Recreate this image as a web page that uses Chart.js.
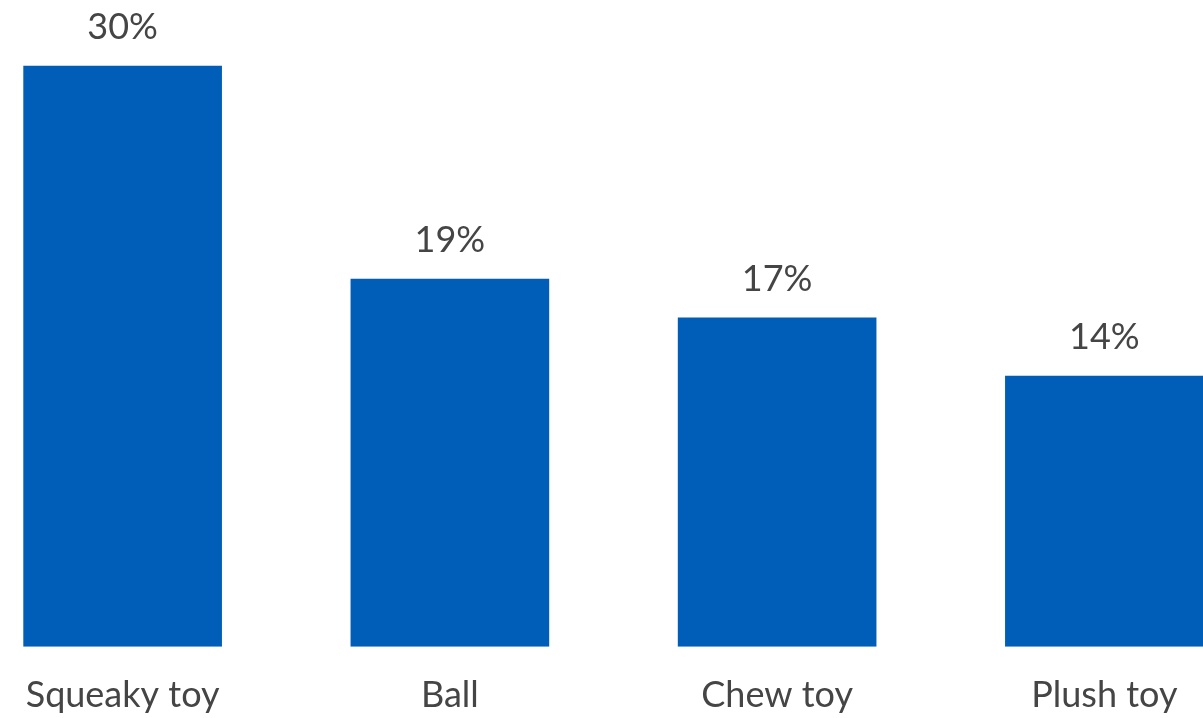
<!DOCTYPE html>
<html lang="en">
<head>
    <meta charset="UTF-8">
    <title>Favourite dog toys</title>
    <script src="https://cdn.jsdelivr.net/npm/chart.js"></script>
    <style>
        html, body { margin: 0; padding: 0; background: #fff; overflow: hidden; height: 718px; }
        /* chart runs a little past the window edges so the bars sit where they should */
        #wrap { position: absolute; left: -41px; top: 0; width: 1309px; height: 744px; }
    </style>
</head>
<body>
    <div id="wrap"><canvas id="toyChart"></canvas></div>

    <script>
        const toys = ["Squeaky toy", "Ball", "Chew toy", "Plush toy"];
        const shares = [30, 19, 17, 14];

        // draws "xx%" above every bar
        const valueLabels = {
            id: "valueLabels",
            afterDatasetsDraw(chart) {
                const ctx = chart.ctx;
                const meta = chart.getDatasetMeta(0);
                ctx.save();
                ctx.font = "36px Lato";
                ctx.fillStyle = "#454545";
                ctx.textAlign = "center";
                ctx.textBaseline = "bottom";
                meta.data.forEach((bar, i) => {
                    ctx.fillText(shares[i] + "%", bar.x, bar.y - 20);
                });
                ctx.restore();
            }
        };

        new Chart(document.getElementById("toyChart"), {
            type: "bar",
            data: {
                labels: toys,
                datasets: [{
                    data: shares,
                    backgroundColor: "#005EB8",
                    categoryPercentage: 1,
                    barPercentage: 0.607
                }]
            },
            options: {
                responsive: true,
                maintainAspectRatio: false,
                animation: false,
                layout: { padding: { top: 27, bottom: 0, left: 0, right: 0 } },
                plugins: { legend: { display: false }, tooltip: { enabled: false } },
                scales: {
                    x: {
                        grid: { display: false, drawTicks: false },
                        border: { display: false },
                        ticks: { color: "#454545", padding: 27, font: { family: "Lato", size: 36 } }
                    },
                    y: { display: false, min: 0, max: 32 }
                }
            },
            plugins: [valueLabels]
        });
    </script>
</body>
</html>
